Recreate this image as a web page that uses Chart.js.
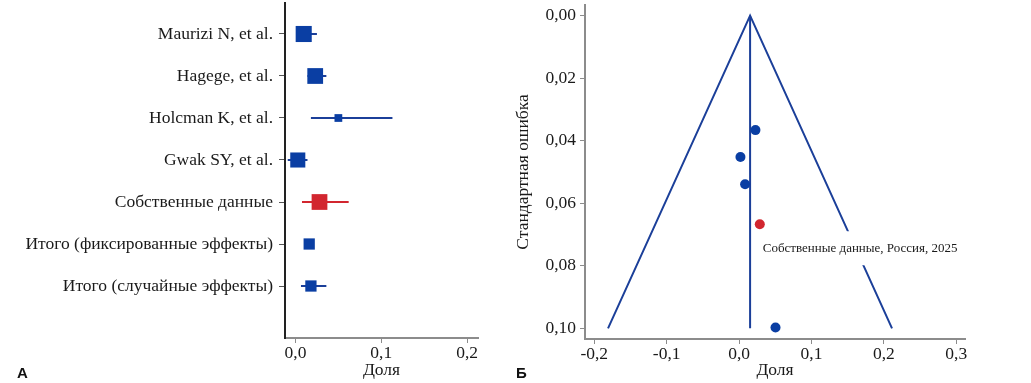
<!DOCTYPE html>
<html>
<head>
<meta charset="utf-8">
<script src="https://cdn.jsdelivr.net/npm/chart.js@4.4.1/dist/chart.umd.min.js"></script>
<style>
    body { margin: 0; background: #fff; width: 1031px; height: 383px; overflow: hidden; position: relative; }
    .panel { position: absolute; top: 0; height: 383px; }
    #left { left: 0; width: 500px; }
    #right { left: 500px; width: 531px; }
    .tag { position: absolute; top: 364px; font: bold 15px 'Liberation Sans', Arial, sans-serif; color: #111; }
</style>
</head>
<body>
<div class="panel" id="left"><canvas id="forest"></canvas></div>
<div class="panel" id="right"><canvas id="funnel"></canvas></div>
<div class="tag" style="left:17px">А</div>
<div class="tag" style="left:516px">Б</div>
<script>
// Данные форест-графика
const studies = ['Maurizi N, et al.', 'Hagege, et al.', 'Holcman K, et al.', 'Gwak SY, et al.',
    'Собственные данные', 'Итого (фиксированные эффекты)', 'Итого (случайные эффекты)'];
const estimate = [0.0096, 0.023, 0.050, 0.0027, 0.028, 0.016, 0.018];
const ciLow = [0.001, 0.014, 0.018, -0.009, 0.0076, 0.011, 0.0064];
const ciHigh = [0.025, 0.036, 0.113, 0.014, 0.062, 0.021, 0.036];
const weight = [24.5, 23.5, 5.7, 21.5, 23.5, 12, 12];
const forestTicks = [0, 0.1, 0.2];

// Данные воронкообразной диаграммы
const funnelEst = [0.0083, 0.0226, 0.0503, 0.0019, 0.0286];
const funnelSE = [0.0539, 0.0366, 0.0997, 0.0452, 0.0667];
const pooled = 0.0152;
const funnelEdgeX = [-0.181, 0.2112];
const funnelEdgeSE = 0.10;
const funnelXTicks = [-0.2, -0.1, 0, 0.1, 0.2, 0.3];
const funnelYTicks = [0, 0.02, 0.04, 0.06, 0.08, 0.10];
const noteText = 'Собственные данные, Россия, 2025';

const BLUE = '#0a3ea3';
const LINE_BLUE = '#1b3f99';
const RED = '#d2262f';
const OWN = 4;
const serif = "'Liberation Serif', 'Times New Roman', serif";
const tickFont = { family: serif, size: 17.5 };
const comma = (v, d) => v.toFixed(d).replace('.', ',');

// убираем авто-отступы под подписи, чтобы область графика встала точно
const noPadY = w => s => { s.width = w; s.paddingTop = 0; s.paddingBottom = 0; };
const noPadX = h => s => { s.height = h; s.paddingLeft = 0; s.paddingRight = 0; };

Chart.defaults.animation = false;
Chart.defaults.color = '#1a1a1a';

// --- А: форест-график ---
const forestSets = [{
    type: 'scatter',
    data: estimate.map((v, i) => ({ x: v, y: i + 1 })),
    pointStyle: 'rect',
    pointRadius: weight.map(w => 3.25 * Math.sqrt(w) / (2 * Math.SQRT1_2)),
    pointBackgroundColor: estimate.map((_, i) => i === OWN ? RED : BLUE),
    pointBorderWidth: 0,
    clip: false
}];
studies.forEach((_, i) => {
    forestSets.push({
        type: 'line',
        data: [{ x: ciLow[i], y: i + 1 }, { x: ciHigh[i], y: i + 1 }],
        borderColor: i === OWN ? RED : LINE_BLUE,
        borderWidth: 2,
        pointRadius: 0,
        clip: false
    });
});

new Chart(document.getElementById('forest'), {
    data: { datasets: forestSets },
    options: {
        responsive: true,
        maintainAspectRatio: false,
        events: [],
        layout: { autoPadding: false, padding: { top: 3, right: 22, left: 0, bottom: 0 } },
        plugins: { legend: { display: false }, tooltip: { enabled: false } },
        scales: {
            x: {
                type: 'linear',
                min: -0.0122,
                max: 0.2127,
                afterBuildTicks: s => { s.ticks = forestTicks.map(v => ({ value: v })); },
                afterFit: noPadX(45),
                ticks: { font: tickFont, padding: 0, callback: v => comma(v, 1), maxRotation: 0 },
                grid: { drawOnChartArea: false, tickLength: 5, tickColor: '#8c8c8c' },
                border: { color: '#8c8c8c', width: 2 },
                title: { display: true, text: 'Доля', font: tickFont, padding: { top: 0, bottom: 2 } }
            },
            y: {
                type: 'linear',
                reverse: true,
                min: 0.262,
                max: 8.238,
                afterBuildTicks: s => { s.ticks = studies.map((_, i) => ({ value: i + 1 })); },
                afterFit: noPadY(285),
                ticks: { font: tickFont, padding: 6, callback: v => studies[v - 1] },
                grid: { drawOnChartArea: false, tickLength: 6, tickColor: '#555' },
                border: { color: '#222', width: 2 }
            }
        }
    }
});

// --- Б: воронкообразная диаграмма ---
const notePlugin = {
    id: 'note',
    afterDatasetsDraw(chart) {
        const { ctx, scales: { x, y } } = chart;
        const px = x.getPixelForValue(funnelEst[OWN]);
        const py = y.getPixelForValue(funnelSE[OWN]);
        ctx.save();
        ctx.font = '13px ' + serif;
        const w = ctx.measureText(noteText).width;
        const tx = px + 3, ty = py + 24;
        ctx.fillStyle = '#fff';
        ctx.fillRect(tx - 3, ty - 17, w + 6, 34);
        ctx.fillStyle = '#1a1a1a';
        ctx.textBaseline = 'middle';
        ctx.fillText(noteText, tx, ty);
        ctx.restore();
    }
};

const lineSet = pts => ({
    type: 'line',
    data: pts,
    borderColor: LINE_BLUE,
    borderWidth: 2,
    pointRadius: 0,
    clip: false
});

new Chart(document.getElementById('funnel'), {
    data: {
        datasets: [
            {
                type: 'scatter',
                data: funnelEst.map((v, i) => ({ x: v, y: funnelSE[i] })),
                pointRadius: 5,
                pointBorderWidth: 0,
                pointBackgroundColor: funnelEst.map((_, i) => i === OWN ? RED : BLUE),
                clip: false
            },
            lineSet([{ x: funnelEdgeX[0], y: funnelEdgeSE }, { x: pooled, y: 0 }, { x: funnelEdgeX[1], y: funnelEdgeSE }]),
            lineSet([{ x: pooled, y: 0 }, { x: pooled, y: funnelEdgeSE }])
        ]
    },
    options: {
        responsive: true,
        maintainAspectRatio: false,
        events: [],
        layout: { autoPadding: false, padding: { top: 5, right: 66, left: 0, bottom: 0 } },
        plugins: { legend: { display: false }, tooltip: { enabled: false } },
        scales: {
            x: {
                type: 'linear',
                min: -0.2128,
                max: 0.312,
                afterBuildTicks: s => { s.ticks = funnelXTicks.map(v => ({ value: v })); },
                afterFit: noPadX(44),
                ticks: { font: tickFont, padding: 0, callback: v => comma(v, 1), maxRotation: 0 },
                grid: { drawOnChartArea: false, tickLength: 5, tickColor: '#8c8c8c' },
                border: { color: '#8c8c8c', width: 2 },
                title: { display: true, text: 'Доля', font: tickFont, padding: { top: 0, bottom: 2 } }
            },
            y: {
                type: 'linear',
                reverse: true,
                min: -0.0034,
                max: 0.1034,
                afterBuildTicks: s => { s.ticks = funnelYTicks.map(v => ({ value: v })); },
                afterFit: noPadY(85),
                ticks: { font: tickFont, padding: 4, callback: v => comma(v, 2) },
                grid: { drawOnChartArea: false, tickLength: 5, tickColor: '#8c8c8c' },
                border: { color: '#8c8c8c', width: 2 },
                title: { display: true, text: 'Стандартная ошибка', font: tickFont, padding: { top: 13, bottom: 0 } }
            }
        }
    },
    plugins: [notePlugin]
});
</script>
</body>
</html>
